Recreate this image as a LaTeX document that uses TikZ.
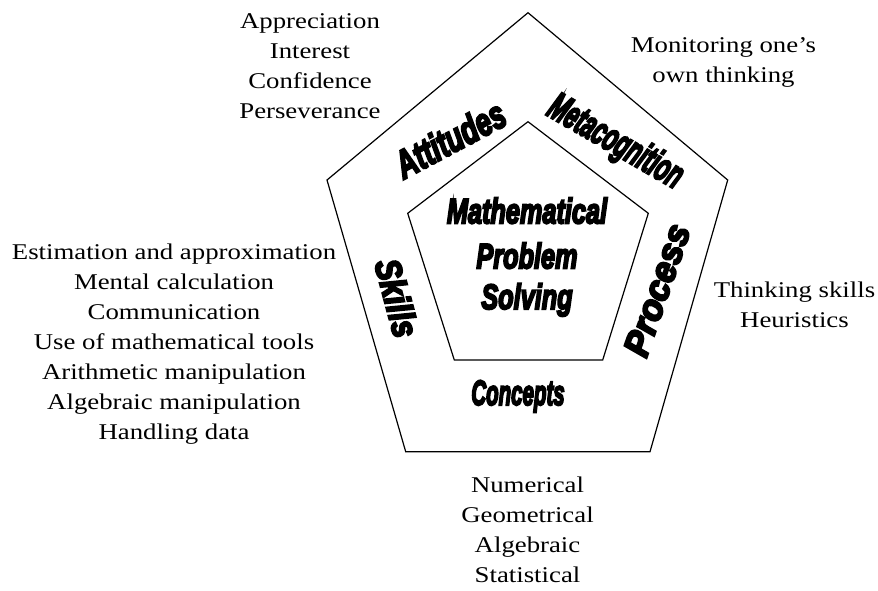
\documentclass[tikz,border=0pt]{standalone}
\usepackage{fontspec}
\usepackage{graphicx}
\setmainfont{Liberation Serif}
\newfontfamily\heavyfont[BoldItalicFeatures={FakeBold=6}]{Liberation Sans}
% centred list of plain lines, widened a little
\newcommand\listblock[1]{\scalebox{1.19}[1]{\fontsize{22.5}{30}\selectfont\begin{tabular}{@{}c@{}}#1\end{tabular}}}
% heavy slanted word, squeezed by #1 horizontally and #2 vertically
\newcommand\bigword[3]{\scalebox{#1}[#2]{\fontsize{32}{36}\selectfont\heavyfont\bfseries\itshape #3}}
\begin{document}
\begin{tikzpicture}[x=1pt,y=-1pt,
  frame/.style={draw=black,line width=1.2pt,line join=miter},
  listtext/.style={inner sep=0pt,text=black},
  heavyword/.style={inner sep=0pt,text=black}]
\useasboundingbox (0,0) rectangle (878,590);

% outer pentagon
\coordinate (o1) at (528,12.7);
\coordinate (o2) at (727.7,180);
\coordinate (o3) at (650,451.7);
\coordinate (o4) at (405.7,451.7);
\coordinate (o5) at (327,180);
\draw[frame] (o1) -- (o2) -- (o3) -- (o4) -- (o5) -- cycle;

% inner pentagon
\coordinate (i1) at (528,121.7);
\coordinate (i2) at (648.3,213.3);
\coordinate (i3) at (602.7,360);
\coordinate (i4) at (454.3,360);
\coordinate (i5) at (407.7,213.3);
\draw[frame] (i1) -- (i2) -- (i3) -- (i4) -- (i5) -- cycle;

% centre
\node[heavyword,anchor=base] (core1) at (527,223.3) {\bigword{0.79}{1.1}{Mathematical}};
\node[heavyword,anchor=base] (core2) at (527,268.3) {\bigword{0.79}{1.1}{Problem}};
\node[heavyword,anchor=base] (core3) at (527,309) {\bigword{0.79}{1.1}{Solving}};

% the five components
\node[heavyword,rotate=28] (attitudes) at (450,139) {\bigword{0.86}{1.22}{Attitudes}};
\node[heavyword,rotate=-30] (meta) at (615,143) {\bigword{0.69}{1.22}{Metacognition}};
\node[heavyword,rotate=71] (process) at (657,290) {\bigword{1.1}{1.12}{Process}};
\node[heavyword,rotate=-75] (skills) at (397,298) {\bigword{0.95}{1.12}{Skills}};
\node[heavyword,anchor=base] (concepts) at (518,405) {\bigword{0.64}{1.1}{Concepts}};

% what each component covers
\node[listtext] (attlist) at (310,67.6) {\listblock{Appreciation\\Interest\\Confidence\\Perseverance}};
\node[listtext] (metalist) at (723.5,61.5) {\listblock{Monitoring one’s\\own thinking}};
\node[listtext] (proclist) at (794.5,306) {\listblock{Thinking skills\\Heuristics}};
\node[listtext] (skilllist) at (174,343) {\listblock{Estimation and approximation\\Mental calculation\\Communication\\Use of mathematical tools\\Arithmetic manipulation\\Algebraic manipulation\\Handling data}};
\node[listtext] (conclist) at (527.5,531.4) {\listblock{Numerical\\Geometrical\\Algebraic\\Statistical}};
\end{tikzpicture}
\end{document}
